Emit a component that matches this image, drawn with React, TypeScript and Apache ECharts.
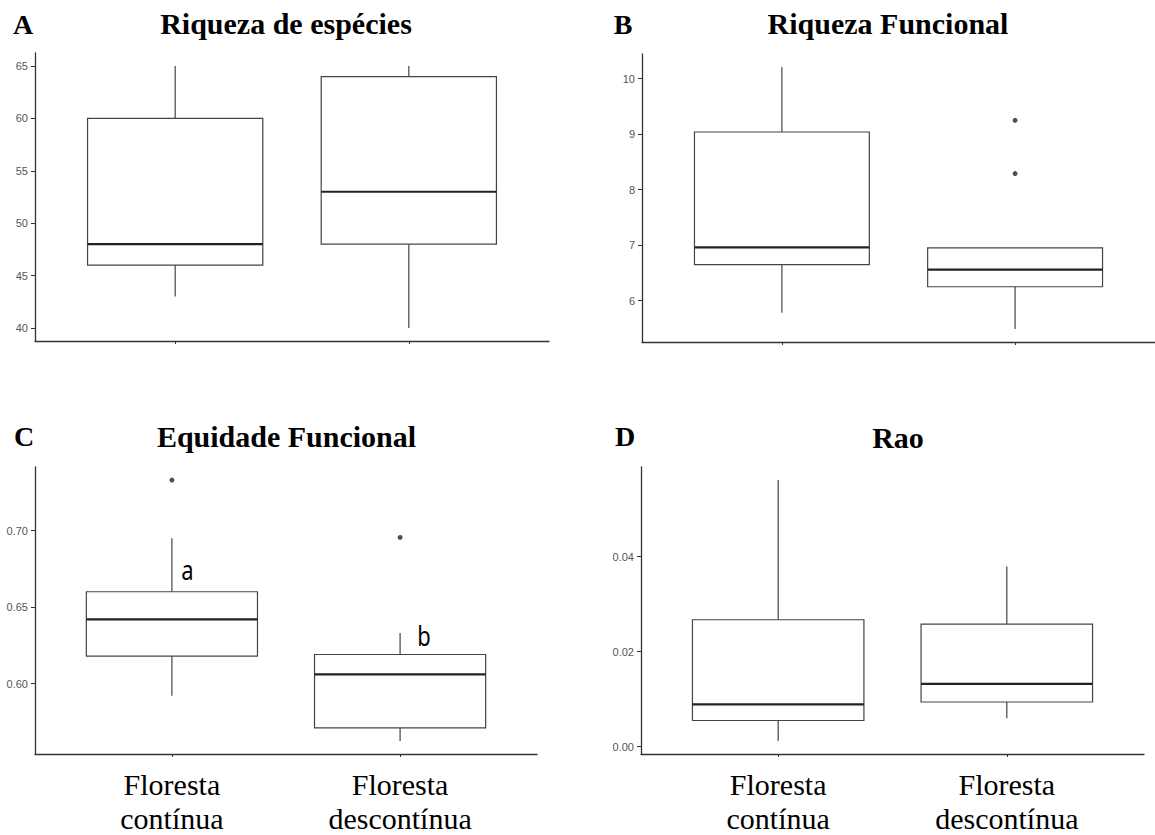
import React, { useEffect, useRef } from 'react';
import * as echarts from 'echarts';

// ---------- data ----------
const categories = ['Floresta\ncontínua', 'Floresta\ndescontínua'];
const panelLetters = ['A', 'B', 'C', 'D'];
const panelTitles = ['Riqueza de espécies', 'Riqueza Funcional', 'Equidade Funcional', 'Rao'];

// each box: [lower whisker, Q1, median, Q3, upper whisker]
const riquezaEspecies = [
  [43, 46, 48, 60, 65],
  [40, 48, 53, 64, 65],
];
const riquezaFuncional = [
  [5.78, 6.65, 6.96, 9.04, 10.21],
  [5.49, 6.25, 6.56, 6.95, 6.95],
];
const equidadeFuncional = [
  [0.592, 0.618, 0.642, 0.66, 0.695],
  [0.5625, 0.571, 0.606, 0.619, 0.633],
];
const rao = [
  [0.0012, 0.0055, 0.0089, 0.0267, 0.0561],
  [0.006, 0.0094, 0.0132, 0.0258, 0.0379],
];

// outliers: [category position, value]
const outliersRiqueza: number[][] = [];
const outliersRiquezaFuncional = [[2, 9.25], [2, 8.29]];
const outliersEquidade = [[1, 0.733], [2, 0.6955]];
const outliersRao: number[][] = [];

const ticksA = [40, 45, 50, 55, 60, 65];
const ticksB = [6, 7, 8, 9, 10];
const ticksC = [0.6, 0.65, 0.7];
const ticksD = [0, 0.02, 0.04];
const tickDecimals = [0, 0, 2, 2];
const significanceLetters = ['a', 'b'];

// ---------- layout ----------
const grids = [
  { left: 35, top: 53, width: 514, height: 288 },
  { left: 642, top: 54, width: 514, height: 288 },
  { left: 35, top: 467, width: 502, height: 288 },
  { left: 641, top: 467, width: 503, height: 287 },
];
const titlePos = [[286, 23], [888, 23], [286.5, 436], [898, 437]];
const letterPos = [[23, 24], [623, 24], [24, 436], [625, 436]];
const sigPos = [[187.5, 570], [424, 635.5]];

const panels = [
  { boxes: riquezaEspecies, outliers: outliersRiqueza, ticks: ticksA },
  { boxes: riquezaFuncional, outliers: outliersRiquezaFuncional, ticks: ticksB },
  { boxes: equidadeFuncional, outliers: outliersEquidade, ticks: ticksC },
  { boxes: rao, outliers: outliersRao, ticks: ticksD },
];

const STROKE = '#444444';
const AXIS = '#333333';

function renderBox(params: any, api: any) {
  const x = api.value(0);
  const lo = api.value(1);
  const q1 = api.value(2);
  const med = api.value(3);
  const q3 = api.value(4);
  const hi = api.value(5);
  const hw = 0.375;
  const tl = api.coord([x - hw, q3]);
  const br = api.coord([x + hw, q1]);
  const ml = api.coord([x - hw, med]);
  const mr = api.coord([x + hw, med]);
  const pHi = api.coord([x, hi]);
  const pQ3 = api.coord([x, q3]);
  const pQ1 = api.coord([x, q1]);
  const pLo = api.coord([x, lo]);
  return {
    type: 'group',
    children: [
      { type: 'line', shape: { x1: pHi[0], y1: pHi[1], x2: pQ3[0], y2: pQ3[1] }, style: { stroke: STROKE, lineWidth: 1.2 } },
      { type: 'line', shape: { x1: pQ1[0], y1: pQ1[1], x2: pLo[0], y2: pLo[1] }, style: { stroke: STROKE, lineWidth: 1.2 } },
      {
        type: 'rect',
        shape: { x: tl[0], y: tl[1], width: br[0] - tl[0], height: br[1] - tl[1] },
        style: { fill: '#ffffff', stroke: STROKE, lineWidth: 1.2 },
      },
      { type: 'line', shape: { x1: ml[0], y1: ml[1], x2: mr[0], y2: mr[1] }, style: { stroke: '#222222', lineWidth: 2.2 } },
    ],
  };
}

function buildOption() {
  const xAxis: any[] = [];
  const yAxis: any[] = [];
  const series: any[] = [];
  panels.forEach((p, i) => {
    const all: number[] = [];
    p.boxes.forEach((b) => all.push(...b));
    p.outliers.forEach((o) => all.push(o[1]));
    const lo = Math.min(...all);
    const hi = Math.max(...all);
    const pad = (hi - lo) * 0.05;
    const showX = i >= 2;
    xAxis.push({
      type: 'value',
      gridIndex: i,
      min: 0.4,
      max: 2.6,
      splitLine: { show: false },
      axisLine: { show: true, onZero: false, lineStyle: { color: AXIS, width: 1.3 } },
      axisTick: { show: true, length: 3, customValues: [1, 2], lineStyle: { color: AXIS } },
      axisLabel: {
        show: showX,
        customValues: [1, 2],
        formatter: (v: number) => categories[Math.round(v) - 1] || '',
        fontFamily: '"Liberation Serif", "Times New Roman", serif',
        fontSize: 30,
        lineHeight: 34,
        color: '#000000',
        margin: 13,
      },
    });
    yAxis.push({
      type: 'value',
      gridIndex: i,
      min: lo - pad,
      max: hi + pad,
      splitLine: { show: false },
      axisLine: { show: true, onZero: false, lineStyle: { color: AXIS, width: 1.3 } },
      axisTick: { show: true, length: 4, customValues: p.ticks, lineStyle: { color: AXIS } },
      axisLabel: {
        customValues: p.ticks,
        formatter: (v: number) => v.toFixed(tickDecimals[i]),
        fontFamily: '"Liberation Sans", Arial, sans-serif',
        fontSize: 11,
        color: '#555555',
        margin: 7,
      },
    });
    series.push({
      type: 'custom',
      xAxisIndex: i,
      yAxisIndex: i,
      renderItem: renderBox,
      encode: { x: 0, y: [1, 2, 3, 4, 5] },
      data: p.boxes.map((b, k) => [k + 1, ...b]),
      clip: false,
      silent: true,
    });
    if (p.outliers.length) {
      series.push({
        type: 'scatter',
        xAxisIndex: i,
        yAxisIndex: i,
        data: p.outliers,
        symbol: 'circle',
        symbolSize: 5,
        itemStyle: { color: '#222222' },
        silent: true,
      });
    }
  });

  const graphic: any[] = [];
  panelTitles.forEach((t, i) => {
    graphic.push({
      type: 'text',
      x: titlePos[i][0],
      y: titlePos[i][1],
      style: {
        text: t,
        fontFamily: '"Liberation Serif", "Times New Roman", serif',
        fontWeight: 'bold',
        fontSize: 30,
        fill: '#000000',
        align: 'center',
        verticalAlign: 'middle',
      },
    });
    graphic.push({
      type: 'text',
      x: letterPos[i][0],
      y: letterPos[i][1],
      style: {
        text: panelLetters[i],
        fontFamily: '"Liberation Serif", "Times New Roman", serif',
        fontWeight: 'bold',
        fontSize: 28,
        fill: '#000000',
        align: 'center',
        verticalAlign: 'middle',
      },
    });
  });
  significanceLetters.forEach((s, i) => {
    graphic.push({
      type: 'text',
      x: sigPos[i][0],
      y: sigPos[i][1],
      scaleY: 1.2,
      style: {
        text: s,
        fontFamily: '"Noto Sans", "Open Sans", sans-serif',
        fontSize: 22,
        fill: '#000000',
        align: 'center',
        verticalAlign: 'middle',
      },
    });
  });

  return {
    animation: false,
    backgroundColor: '#ffffff',
    grid: grids.map((g) => ({ ...g, containLabel: false })),
    xAxis,
    yAxis,
    series,
    graphic,
  };
}

export default function App() {
  const ref = useRef<HTMLDivElement>(null);
  useEffect(() => {
    document.body.style.margin = '0';
    const chart = echarts.init(ref.current as HTMLDivElement, null, { renderer: 'svg' });
    chart.setOption(buildOption() as any);
    return () => chart.dispose();
  }, []);
  return (
    <div
      ref={ref}
      style={{ position: 'absolute', left: 0, top: 0, width: 1155, height: 835, background: '#ffffff' }}
    />
  );
}
